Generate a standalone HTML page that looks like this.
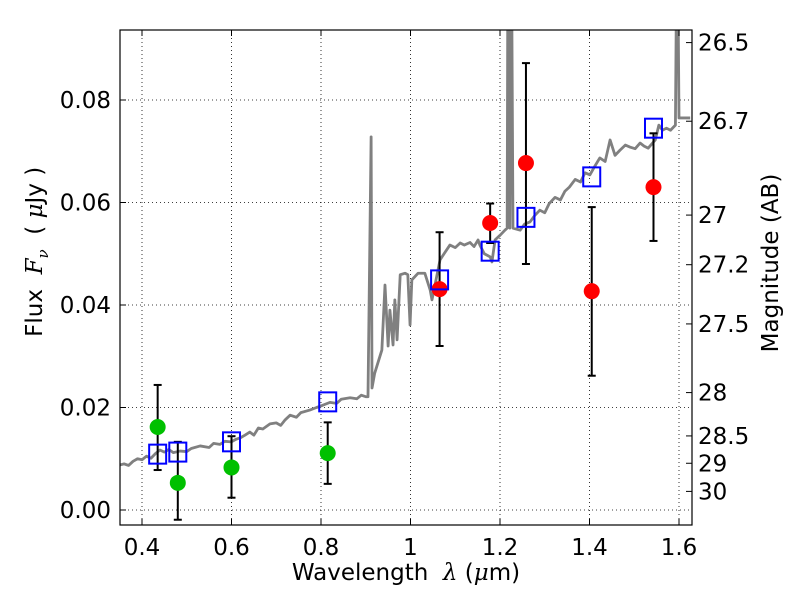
<!DOCTYPE html>
<html><head><meta charset="utf-8"><style>
body{margin:0;background:#fff;}
svg{display:block;font-family:"DejaVu Sans","Liberation Sans",sans-serif;}
</style></head><body>
<svg id="chart" width="800" height="600"></svg>
<script>
const xTicks=[0.4,0.6,0.8,1.0,1.2,1.4,1.6];
const xTickLabels=["0.4","0.6","0.8","1","1.2","1.4","1.6"];
const yTicks=[0,0.02,0.04,0.06,0.08];
const yTickLabels=["0.00","0.02","0.04","0.06","0.08"];
const magTicks=[26.5,26.7,27,27.2,27.5,28,28.5,29,30];
const magLabels=["26.5","26.7","27","27.2","27.5","28","28.5","29","30"];
const specLam=[0.351,0.36,0.37,0.38,0.39,0.4,0.41,0.42,0.43,0.44,0.45,0.46,0.47,0.485,0.5,0.51,0.53,0.55,0.56,0.574,0.585,0.6,0.61,0.62,0.63,0.641,0.65,0.66,0.67,0.686,0.7,0.71,0.72,0.731,0.745,0.755,0.775,0.79,0.8,0.82,0.835,0.845,0.865,0.88,0.89,0.9,0.905,0.912,0.914,0.92,0.936,0.943,0.95,0.954,0.961,0.965,0.97,0.977,0.988,0.994,0.999,1.003,1.017,1.032,1.044,1.048,1.066,1.075,1.088,1.1,1.111,1.12,1.133,1.142,1.151,1.155,1.165,1.178,1.182,1.189,1.2,1.211,1.216,1.218,1.222,1.225,1.229,1.245,1.255,1.267,1.278,1.289,1.3,1.31,1.323,1.335,1.345,1.355,1.368,1.38,1.39,1.401,1.41,1.423,1.435,1.446,1.457,1.468,1.48,1.491,1.502,1.513,1.522,1.531,1.547,1.555,1.563,1.572,1.581,1.592,1.596,1.6,1.605,1.625];
const specFlux=[0.0088,0.0090,0.0087,0.0095,0.0100,0.0098,0.0105,0.0101,0.0110,0.0117,0.0113,0.0118,0.0112,0.0115,0.0114,0.0120,0.0125,0.0122,0.0130,0.0128,0.0134,0.0133,0.0138,0.0141,0.0146,0.0152,0.0146,0.0160,0.0158,0.0168,0.0170,0.0165,0.0176,0.0185,0.0181,0.0190,0.0195,0.0200,0.0203,0.0210,0.0208,0.0216,0.0219,0.0217,0.0224,0.0221,0.0221,0.0728,0.0238,0.0267,0.0312,0.0439,0.032,0.039,0.0322,0.041,0.0332,0.0459,0.0462,0.0459,0.0361,0.0449,0.0462,0.0462,0.0429,0.041,0.0488,0.0500,0.0517,0.0512,0.0521,0.0517,0.0522,0.0514,0.0527,0.0517,0.0500,0.0494,0.0484,0.0527,0.0536,0.0546,0.055,0.12,0.055,0.12,0.055,0.0546,0.0558,0.0562,0.0575,0.0585,0.0580,0.0598,0.0610,0.0605,0.0622,0.0630,0.0645,0.0640,0.0658,0.0654,0.0668,0.0687,0.0680,0.0722,0.0692,0.0702,0.0712,0.0708,0.0705,0.0716,0.0710,0.0706,0.0722,0.0751,0.0741,0.0745,0.0741,0.0751,0.12,0.0765,0.0765,0.0765];
const greenLam=[0.435,0.48,0.6,0.815];
const greenFlux=[0.0162,0.0053,0.0083,0.0111];
const greenLo=[0.0078,-0.0019,0.0024,0.0051];
const greenHi=[0.0244,0.0133,0.0144,0.0171];
const redLam=[1.065,1.178,1.258,1.405,1.543];
const redFlux=[0.0431,0.056,0.0677,0.0427,0.0630];
const redLo=[0.032,0.0521,0.0480,0.0262,0.0525];
const redHi=[0.0542,0.0598,0.0872,0.0591,0.0735];
const blueLam=[0.435,0.48,0.6,0.815,1.065,1.178,1.258,1.405,1.543];
const blueFlux=[0.0109,0.0113,0.0133,0.0211,0.0449,0.0505,0.0571,0.0650,0.0745];

const L=120,R=692,T=30,B=525;
const X=v=>142+(v-0.4)*447.5;
const Y=v=>510-v*5125;
const NS="http://www.w3.org/2000/svg";
const svg=document.getElementById('chart');
function mk(t,a,parent){const e=document.createElementNS(NS,t);for(const k in a)e.setAttribute(k,a[k]);(parent||svg).appendChild(e);return e;}

const defs=mk('defs',{});
const cp=mk('clipPath',{id:'clip'},defs);mk('rect',{x:L,y:T,width:R-L,height:B-T},cp);

xTicks.forEach(v=>{const g=mk('line',{x1:X(v),x2:X(v),y1:T,y2:B,stroke:'#000','stroke-width':0.8,'stroke-dasharray':'1,3'});

});
yTicks.forEach(v=>{const g=mk('line',{x1:L,x2:R,y1:Y(v),y2:Y(v),stroke:'#000','stroke-width':0.8,'stroke-dasharray':'1,3'});

});

const pl=mk('polyline',{points:specLam.map((l,i)=>X(l)+','+Y(specFlux[i])).join(' '),fill:'none',stroke:'#808080','stroke-width':2.8,'clip-path':'url(#clip)','stroke-linejoin':'round'});



function errbar(xs,ys,lo,hi,name){xs.forEach((l,i)=>{const x=X(l);
const ln=mk('line',{x1:x,x2:x,y1:Y(lo[i]),y2:Y(hi[i]),stroke:'#000','stroke-width':2});


[lo[i],hi[i]].forEach(v=>{const c=mk('line',{x1:x-4,x2:x+4,y1:Y(v),y2:Y(v),stroke:'#000','stroke-width':2});

});});}
errbar(greenLam,greenFlux,greenLo,greenHi,'green');
errbar(redLam,redFlux,redLo,redHi,'red');

greenLam.forEach((l,i)=>{const c=mk('circle',{cx:X(l),cy:Y(greenFlux[i]),r:8,fill:'#00c000'});

});
redLam.forEach((l,i)=>{const c=mk('circle',{cx:X(l),cy:Y(redFlux[i]),r:8,fill:'#ff0000'});

});
blueLam.forEach((l,i)=>{const s=mk('rect',{x:X(l)-8.5,y:Y(blueFlux[i])-9.5,width:17,height:19,fill:'none',stroke:'#0000ff','stroke-width':2});

});

const fr=mk('rect',{x:L,y:T,width:R-L,height:B-T,fill:'none',stroke:'#000','stroke-width':1.2});



xTicks.forEach((v,i)=>{const x=X(v);
mk('line',{x1:x,x2:x,y1:B,y2:B-6,stroke:'#000'});mk('line',{x1:x,x2:x,y1:T,y2:T+6,stroke:'#000'});
const t=mk('text',{x:x,y:B+30,'font-size':23,'text-anchor':'middle'});t.textContent=xTickLabels[i];

});
yTicks.forEach((v,i)=>{const y=Y(v);
mk('line',{x1:L,x2:L+6,y1:y,y2:y,stroke:'#000'});
const t=mk('text',{x:L-9,y:y+8,'font-size':23,'text-anchor':'end'});t.textContent=yTickLabels[i];

});
magTicks.forEach((m,i)=>{const y=Y(Math.pow(10,(23.9-m)/2.5));
mk('line',{x1:R-6,x2:R,y1:y,y2:y,stroke:'#000'});
const t=mk('text',{x:R+6,y:y+8,'font-size':23});t.textContent=magLabels[i];

});
</script>
<div style="position:absolute;left:0;top:0;width:800px;height:600px;pointer-events:none;font-family:'DejaVu Sans','Liberation Sans',sans-serif;">
<div style="position:absolute;left:0;width:812px;top:560px;text-align:center;font-size:23px;white-space:pre;">Wavelength  <i style="font-family:'DejaVu Serif',serif">λ</i> (<i style="font-family:'DejaVu Serif',serif">μ</i>m)</div>
<div style="position:absolute;left:-113px;top:237px;width:300px;text-align:center;font-size:23px;transform:rotate(-90deg);white-space:pre;">Flux  <i style="font-family:'DejaVu Serif',serif">F<sub style="font-size:15px">ν</sub></i>  ( <i style="font-family:'DejaVu Serif',serif">μ</i>Jy )</div>
<div style="position:absolute;left:621px;top:250px;width:300px;text-align:center;font-size:23px;transform:rotate(-90deg);white-space:nowrap;">Magnitude (AB)</div>
</div>
</body></html>
